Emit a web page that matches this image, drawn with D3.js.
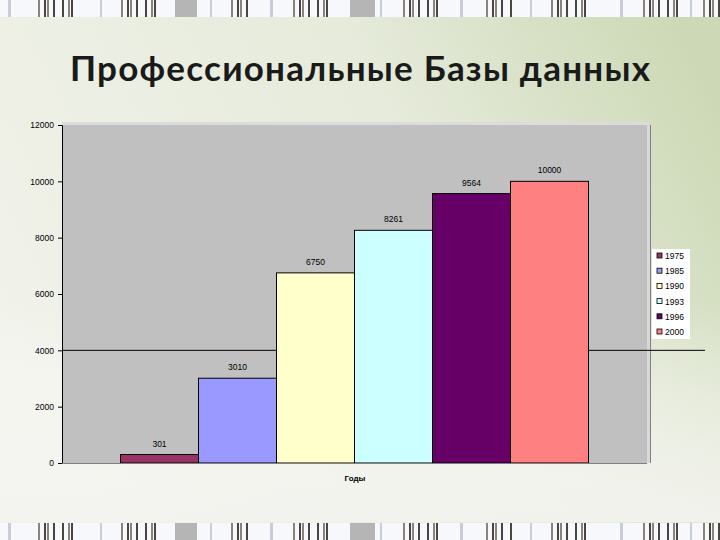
<!DOCTYPE html>
<html><head><meta charset="utf-8">
<script src="https://cdn.jsdelivr.net/npm/d3@7"></script>
<style>html,body{margin:0;padding:0;background:#fff}svg{display:block}</style>
</head><body>
<svg id="c" width="720" height="540"></svg>
<script>
const years = ["1975","1985","1990","1993","1996","2000"];
const values = [301, 3010, 6750, 8261, 9564, 10000];
const colors = ["#993366","#9999ff","#ffffcc","#ccffff","#660066","#ff8080"];
const yTicks = [0,2000,4000,6000,8000,10000,12000];
const title = "Профессиональные Базы данных";
const xTitle = "Годы";

const svg = d3.select("#c");
const defs = svg.append("defs");
const g1 = defs.append("linearGradient").attr("id","bg").attr("x1","0").attr("y1","0.6").attr("x2","1").attr("y2","0.2");
g1.append("stop").attr("offset","0").attr("stop-color","#f1f2ea");
g1.append("stop").attr("offset","0.6").attr("stop-color","#e6ebdb");
g1.append("stop").attr("offset","1").attr("stop-color","#cdd9b6");
svg.append("rect").attr("width",720).attr("height",540).attr("fill","url(#bg)");
const g2 = defs.append("linearGradient").attr("id","bg2").attr("x1","0").attr("y1","0").attr("x2","0").attr("y2","1");
g2.append("stop").attr("offset","0").attr("stop-color","#ffffff").attr("stop-opacity",0);
g2.append("stop").attr("offset","1").attr("stop-color","#f3f3ef").attr("stop-opacity",0.9);
svg.append("rect").attr("y",300).attr("width",720).attr("height",222).attr("fill","url(#bg2)");

// decorative barcode stripes
function stripe(y0,h){
  svg.append("rect").attr("x",0).attr("y",y0).attr("width",720).attr("height",h).attr("fill","#f7f8fb");
  const groups=[[35,40],[118,42],[228,20],[290,42],[400,40],[483,28],[548,42],[640,42],[700,20]];
  const pat=[0,1,0,1,1,0,1,0,0,1,0,1,1,0];
  groups.forEach(([gx,w])=>{
    for(let i=0;i<w;i+=3){
      if(pat[(i/3|0)%pat.length]) svg.append("rect").attr("x",gx+i).attr("y",y0).attr("width",2).attr("height",h).attr("fill",((i/3|0)%3===0)?"#4a4540":"#8a837c");
    }
  });
  [[8,3],[100,2],[175,22],[210,2],[270,3],[350,25],[380,2],[460,3],[530,2],[620,3],[690,2]].forEach(([x,w])=>{
    svg.append("rect").attr("x",x).attr("y",y0).attr("width",w).attr("height",h).attr("fill",w>10?"#b5b5b5":"#c8ccd8");
  });
}
stripe(0,17);
stripe(523,17);

svg.append("text").attr("x",70).attr("y",81)
  .attr("font-family","Lato").attr("font-weight","bold").attr("font-size",35)
  .attr("textLength",580).attr("lengthAdjust","spacing")
  .attr("fill","#1a1a1a").text(title);

const L=62,R=647,T=125,B=463;
const y = d3.scaleLinear().domain([0,12000]).range([B,T]);
const x = d3.scaleBand().domain(years).range([L,R]).paddingOuter(0.75).paddingInner(0);

svg.append("rect").attr("x",L).attr("y",T).attr("width",R-L).attr("height",B-T).attr("fill","#c0c0c0");
svg.append("rect").attr("x",L).attr("y",T-3).attr("width",R-L+3).attr("height",3).attr("fill","#dcdcdc");
svg.append("rect").attr("x",R).attr("y",T-3).attr("width",3).attr("height",B-T+3).attr("fill","#d8d8d8");
svg.append("line").attr("x1",R+3.5).attr("x2",R+3.5).attr("y1",T).attr("y2",B).attr("stroke","#808080");

// gridline at 4000
svg.append("line").attr("x1",L).attr("x2",705).attr("y1",y(4000)).attr("y2",y(4000)).attr("stroke","#000").attr("stroke-width",1);

svg.selectAll("rect.bar").data(values).join("rect").attr("class","bar")
  .attr("x",(d,i)=>x(years[i])).attr("width",x.bandwidth())
  .attr("y",d=>y(d)).attr("height",d=>B-y(d))
  .attr("fill",(d,i)=>colors[i]).attr("stroke","#000").attr("stroke-width",1);

svg.selectAll("text.lab").data(values).join("text").attr("class","lab")
  .attr("x",(d,i)=>x(years[i])+x.bandwidth()/2).attr("y",d=>y(d)-8)
  .attr("text-anchor","middle").attr("font-family","Liberation Sans").attr("font-size",8.5)
  .attr("fill","#000").text(d=>d);

const ax = svg.append("g").attr("transform",`translate(${L},0)`)
  .call(d3.axisLeft(y).tickValues(yTicks).tickSize(4).tickFormat(d3.format("d")));
ax.select(".domain").attr("stroke","#000");
ax.selectAll("text").attr("font-family","Liberation Sans").attr("font-size",8.5).attr("fill","#000").attr("dx",-1);
svg.append("line").attr("x1",L).attr("x2",R).attr("y1",B+0.5).attr("y2",B+0.5).attr("stroke","#808080");

svg.append("text").attr("x",355).attr("y",481).attr("text-anchor","middle")
  .attr("font-family","Liberation Sans").attr("font-weight","bold").attr("font-size",8).text(xTitle);

// legend
const lg = svg.append("g").attr("transform","translate(652,249)");
lg.append("rect").attr("width",38).attr("height",90).attr("fill","#ffffff");
years.forEach((yr,i)=>{
  const yy = 7+i*15.2;
  lg.append("rect").attr("x",5).attr("y",yy-3).attr("width",5).attr("height",5).attr("fill",colors[i]).attr("stroke","#000").attr("stroke-width",0.8);
  lg.append("text").attr("x",13).attr("y",yy+3).attr("font-family","Liberation Sans").attr("font-size",8.5).text(yr);
});
</script>
</body></html>
